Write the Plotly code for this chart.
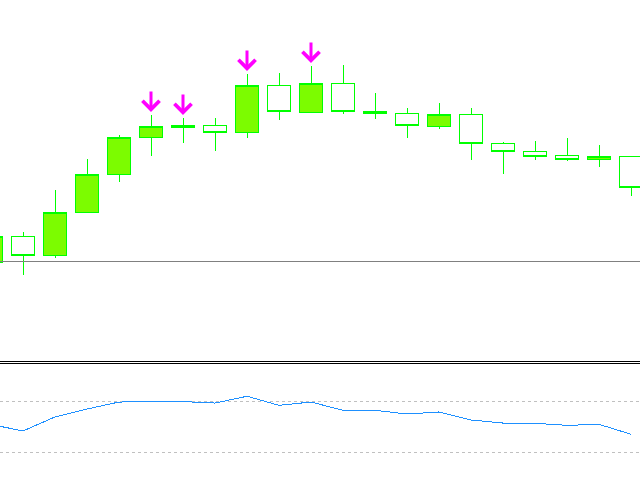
import plotly.graph_objects as go

# Candle data (price units)
bars = list(range(21))
opens = [1.2999, 1.3025, 1.3006, 1.3049, 1.3087, 1.3124, 1.3134, 1.3136, 1.3129, 1.3176, 1.3149,
         1.3178, 1.3150, 1.3148, 1.3135, 1.3147, 1.3118, 1.3110, 1.3106, 1.3102, 1.3105]
highs = [1.3029, 1.3029, 1.3071, 1.3102, 1.3126, 1.3146, 1.3143, 1.3143, 1.3187, 1.3188, 1.3195,
         1.3196, 1.3168, 1.3153, 1.3158, 1.3153, 1.3119, 1.3120, 1.3123, 1.3116, 1.3105]
lows = [1.2996, 1.2986, 1.3003, 1.3049, 1.3079, 1.3105, 1.3118, 1.3110, 1.3123, 1.3141, 1.3149,
        1.3147, 1.3142, 1.3123, 1.3132, 1.3101, 1.3087, 1.3101, 1.3100, 1.3094, 1.3065]
closes = [1.3025, 1.3006, 1.3049, 1.3087, 1.3124, 1.3135, 1.3136, 1.3129, 1.3176, 1.3150, 1.3178,
          1.3150, 1.3148, 1.3136, 1.3147, 1.3118, 1.3110, 1.3105, 1.3102, 1.3105, 1.3074]

# Bars with sell-arrow signals
signal_bars = [5, 6, 8, 10]

# Horizontal price level
level_price = 1.3000

# Indicator (oscillator) values and levels
osc = [51.6, 46.5, 57.5, 63.7, 69.2, 69.5, 69.5, 68.4, 73.7, 66.6, 69.2,
       62.7, 62.7, 59.8, 61.4, 55.1, 52.7, 52.5, 50.9, 51.7, 43.9]
osc_levels = [70, 30]

W, H = 640, 480
main_bottom_px = 361
sub_top_px = 364

fig = go.Figure()
fig.add_trace(go.Candlestick(
    x=bars, open=opens, high=highs, low=lows, close=closes,
    increasing=dict(fillcolor="#7CFC00", line=dict(color="#00FF00", width=1)),
    decreasing=dict(fillcolor="#FFFFFF", line=dict(color="#00FF00", width=1)),
    whiskerwidth=0, xaxis="x", yaxis="y", showlegend=False, hoverinfo="skip",
))
fig.add_trace(go.Scatter(
    x=bars, y=osc, mode="lines", line=dict(color="#1E90FF", width=1),
    xaxis="x2", yaxis="y2", showlegend=False, hoverinfo="skip",
))

for i in signal_bars:
    fig.add_annotation(x=bars[i], y=highs[i], xref="x", yref="y", text="",
                       showarrow=True, ax=0, ay=-25, standoff=3,
                       arrowhead=4, arrowwidth=3, arrowsize=1.1, arrowcolor="#FF00FF")

shapes = [
    dict(type="line", xref="paper", yref="y", x0=0, x1=1, y0=level_price, y1=level_price,
         line=dict(color="#808080", width=1)),
    dict(type="line", xref="paper", yref="paper", x0=0, x1=1,
         y0=1 - 361.5 / H, y1=1 - 361.5 / H, line=dict(color="#000000", width=1)),
    dict(type="line", xref="paper", yref="paper", x0=0, x1=1,
         y0=1 - 363.5 / H, y1=1 - 363.5 / H, line=dict(color="#000000", width=1)),
]
for lv in osc_levels:
    shapes.append(dict(type="line", xref="paper", yref="y2", x0=0, x1=1, y0=lv, y1=lv,
                       line=dict(color="#C0C0C0", width=1, dash="3px,3px"), layer="below"))

xr = [9 / 32, 649 / 32]
top_price = level_price + 261 / 10000
bot_price = level_price - (main_bottom_px - 261) / 10000
osc_top = 70 + (401 - sub_top_px) * 40 / 51
osc_bot = 70 - (H - 401) * 40 / 51

ax_common = dict(showgrid=False, zeroline=False, showticklabels=False, ticks="", showline=False)
fig.update_layout(
    width=W, height=H, margin=dict(l=0, r=0, t=0, b=0),
    paper_bgcolor="white", plot_bgcolor="white",
    boxgap=0.28, boxgroupgap=0,
    xaxis=dict(range=xr, domain=[0, 1], rangeslider=dict(visible=False), anchor="y", **ax_common),
    yaxis=dict(range=[bot_price, top_price], domain=[1 - main_bottom_px / H, 1], anchor="x", **ax_common),
    xaxis2=dict(range=xr, domain=[0, 1], anchor="y2", **ax_common),
    yaxis2=dict(range=[osc_bot, osc_top], domain=[0, 1 - sub_top_px / H], anchor="x2", **ax_common),
    shapes=shapes,
)

post = (
    "document.body.style.margin='0';document.body.style.overflow='hidden';"
    "document.querySelectorAll('.main-svg .trace path, .main-svg .shapelayer path')"
    ".forEach(function(p){p.style.shapeRendering='crispEdges';});"
)
fig.write_html("out.html", config={"displayModeBar": False}, post_script=post)
